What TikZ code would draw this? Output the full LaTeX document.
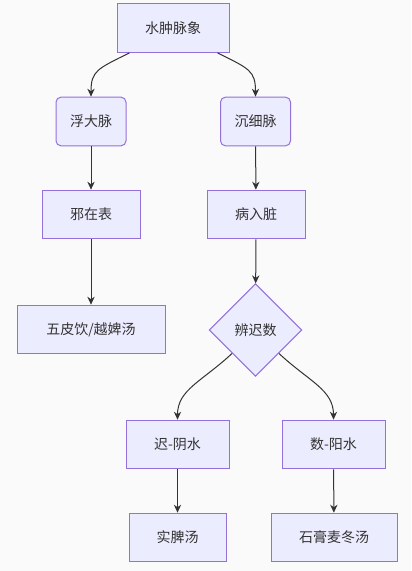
\documentclass[tikz,border=0pt]{standalone}
\usepackage{fontspec}
\setmainfont{Noto Sans CJK SC}
\usetikzlibrary{shapes.geometric,arrows.meta,calc}
\definecolor{boxfill}{RGB}{236,236,255}
\definecolor{boxline}{RGB}{147,112,219}
\definecolor{edgeline}{RGB}{51,51,51}
\definecolor{pagebg}{RGB}{250,250,250}

\begin{document}
\begin{tikzpicture}[x=0.75pt,y=-0.75pt,
    box/.style={draw=boxline, fill=boxfill, line width=0.75pt, text=edgeline,
                font=\fontsize{10.5}{12}\selectfont, minimum height=36.5pt, inner sep=0pt},
    roundbox/.style={box, rounded corners=3.75pt},
    choice/.style={box, diamond, aspect=1, minimum width=69.5pt, minimum height=69.5pt},
    link/.style={draw=edgeline, line width=0.75pt, -{Stealth[length=6pt,width=5.5pt]}}]

    % Background (fixes the page size)
    \fill[pagebg] (0,0) rectangle (411,571);

    % Upper part: pulse
    \node[box, minimum width=84pt] (pulse) at (173,28) {水肿脉象};
    \node[roundbox, minimum width=52.5pt] (fuda) at (91,121.5) {浮大脉};
    \node[roundbox, minimum width=52.5pt] (chenxi) at (255.5,121.5) {沉细脉};

    % Left branch
    \node[box, minimum width=73.5pt] (biao) at (91,214.5) {邪在表};
    \node[box, minimum width=111pt] (wupi) at (91,329.5) {五皮饮/越婢汤};

    % Right branch
    \node[box, minimum width=73.5pt] (zang) at (256,214.5) {病入脏};
    \node[choice] (chishu) at (255.5,330) {辨迟数};
    \node[box, minimum width=77.25pt] (yin) at (177.5,444.5) {迟-阴水};
    \node[box, minimum width=77.25pt] (yang) at (333.5,444.5) {数-阳水};
    \node[box, minimum width=72.75pt] (shipi) at (177.5,537.5) {实脾汤};
    \node[box, minimum width=94.5pt] (shigao) at (334,537.5) {石膏麦冬汤};

    % Connectors
    \draw[link] ($(pulse.south west)+(13,0)$) .. controls +(-32,16) and +(0,-26) .. (fuda.north);
    \draw[link] ($(pulse.south east)+(-12,0)$) .. controls +(32,16) and +(0,-26) .. (chenxi.north);
    \draw[link] (fuda) -- (biao);
    \draw[link] (chenxi) -- (zang);
    \draw[link] (biao) -- (wupi);
    \draw[link] (zang) -- (chishu);
    \draw[link] (chishu.south west) .. controls +(-30,28) and +(0,-30) .. (yin.north);
    \draw[link] (chishu.south east) .. controls +(30,28) and +(0,-30) .. (yang.north);
    \draw[link] (yin) -- (shipi);
    \draw[link] (yang) -- (shigao);

\end{tikzpicture}
\end{document}
